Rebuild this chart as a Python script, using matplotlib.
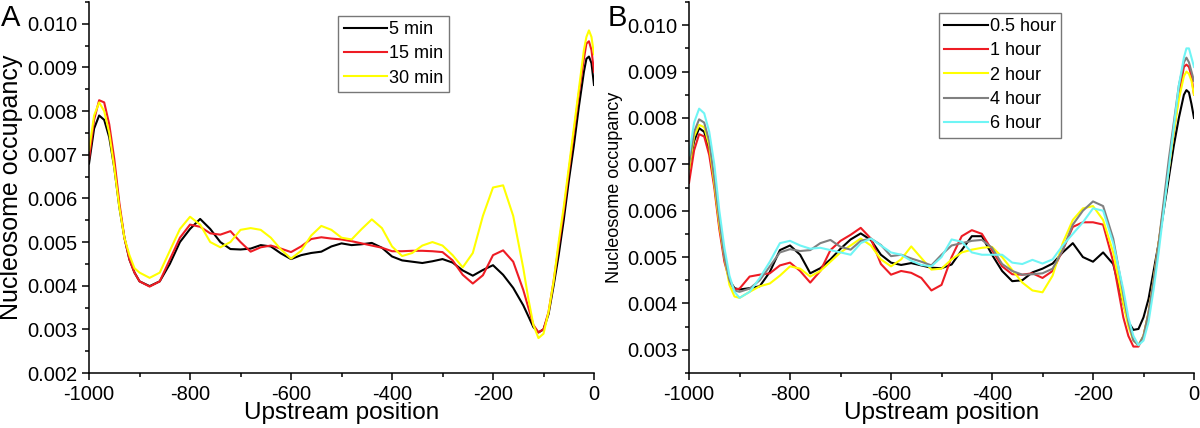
import matplotlib
matplotlib.use("Agg")
import matplotlib.pyplot as plt
from matplotlib.ticker import MultipleLocator, FormatStrFormatter

plt.rcParams['font.family'] = ['Liberation Sans', 'DejaVu Sans']
plt.rcParams['axes.unicode_minus'] = False

# upstream positions (shared by all curves)
pos = [-1000, -990, -980, -970, -960, -950, -940, -930, -920, -910, -900,
       -880, -860, -840, -820, -800, -780, -760, -740, -720, -700, -680,
       -660, -640, -620, -600, -580, -560, -540, -520, -500, -480, -460,
       -440, -420, -400, -380, -360, -340, -320, -300, -280, -260, -240,
       -220, -200, -180, -160, -140, -130, -120, -110, -100, -90, -80,
       -70, -60, -50, -40, -30, -20, -15, -10, -5, 0]

# panel A
min5 = [0.0068, 0.0076, 0.0079, 0.0078, 0.0074, 0.0067, 0.0058, 0.0051, 0.0046, 0.0043, 0.0041,
        0.00399, 0.0041, 0.0045, 0.0050, 0.0053, 0.00553, 0.0053, 0.0050, 0.00484, 0.00483, 0.00485,
        0.00493, 0.00490, 0.00474, 0.00461, 0.00470, 0.00475, 0.00478, 0.00490, 0.00497, 0.00493, 0.00495,
        0.00498, 0.00487, 0.00467, 0.00458, 0.00455, 0.00452, 0.00456, 0.00461, 0.00453, 0.00435, 0.00423,
        0.00436, 0.00447, 0.00425, 0.00395, 0.00355, 0.0033, 0.00305, 0.00293, 0.00300, 0.00335, 0.0040,
        0.0047, 0.0055, 0.0064, 0.0072, 0.0081, 0.0089, 0.0092, 0.00925, 0.0091, 0.0086]
min15 = [0.0069, 0.0078, 0.00825, 0.0082, 0.0077, 0.0069, 0.0059, 0.0051, 0.0046, 0.0043, 0.0041,
         0.00398, 0.0041, 0.0046, 0.0051, 0.00540, 0.00535, 0.0052, 0.00517, 0.00525, 0.00500, 0.00478,
         0.00488, 0.00492, 0.00485, 0.00477, 0.00490, 0.00507, 0.00511, 0.00508, 0.00506, 0.00502, 0.00497,
         0.00492, 0.00487, 0.00479, 0.00479, 0.00480, 0.00480, 0.00479, 0.00477, 0.00458, 0.00425, 0.00405,
         0.00424, 0.00470, 0.00481, 0.00455, 0.0039, 0.0035, 0.0031, 0.00293, 0.0030, 0.0034, 0.0041,
         0.0049, 0.0057, 0.0066, 0.0075, 0.0084, 0.0092, 0.00955, 0.0096, 0.0094, 0.0089]
min30 = [0.0071, 0.0079, 0.0082, 0.0080, 0.0075, 0.0067, 0.0058, 0.0051, 0.0047, 0.0044, 0.0043,
         0.00418, 0.0043, 0.0048, 0.0053, 0.00558, 0.0054, 0.0050, 0.00488, 0.0050, 0.00528, 0.00532,
         0.00528, 0.00510, 0.00483, 0.00462, 0.00480, 0.00515, 0.00537, 0.00528, 0.00510, 0.00506, 0.00530,
         0.00552, 0.00532, 0.00490, 0.00468, 0.00475, 0.00492, 0.00500, 0.00492, 0.00470, 0.00442, 0.00475,
         0.00560, 0.00625, 0.00630, 0.0056, 0.0044, 0.0037, 0.0031, 0.0028, 0.0029, 0.0034, 0.0041,
         0.0050, 0.0058, 0.0067, 0.0076, 0.0085, 0.0094, 0.0097, 0.00985, 0.0097, 0.0093]

# panel B
h05 = [0.0069, 0.0075, 0.00778, 0.0077, 0.0073, 0.0066, 0.0057, 0.0050, 0.0045, 0.00433, 0.00430,
       0.00433, 0.00437, 0.00468, 0.00515, 0.00525, 0.00505, 0.00465, 0.00476, 0.00495, 0.00518, 0.00538,
       0.00551, 0.00537, 0.00505, 0.00488, 0.00483, 0.00487, 0.00482, 0.00477, 0.00476, 0.00484, 0.00515,
       0.00545, 0.00545, 0.00505, 0.00470, 0.00448, 0.00450, 0.00467, 0.00475, 0.00486, 0.00510, 0.00530,
       0.00500, 0.00490, 0.00510, 0.00485, 0.0040, 0.0036, 0.00343, 0.00345, 0.0037, 0.0041, 0.0047,
       0.0053, 0.0060, 0.0067, 0.0074, 0.0080, 0.0085, 0.0086, 0.00855, 0.0083, 0.0080]
h1 = [0.0066, 0.0073, 0.00765, 0.0076, 0.0072, 0.0065, 0.0056, 0.0049, 0.0045, 0.0043, 0.00432,
      0.00458, 0.00462, 0.00465, 0.00482, 0.00488, 0.00470, 0.00445, 0.00470, 0.00515, 0.00535, 0.00548,
      0.00563, 0.00540, 0.00485, 0.00462, 0.00470, 0.00466, 0.00455, 0.00428, 0.00440, 0.00500, 0.00545,
      0.00558, 0.00550, 0.00515, 0.00480, 0.00463, 0.00462, 0.00465, 0.00455, 0.00470, 0.00515, 0.00565,
      0.00575, 0.00575, 0.00570, 0.00490, 0.0037, 0.0033, 0.00307, 0.00307, 0.0033, 0.0038, 0.0045,
      0.0053, 0.0061, 0.0069, 0.0077, 0.0085, 0.0091, 0.00915, 0.0091, 0.0089, 0.0085]
h2 = [0.0069, 0.0076, 0.00785, 0.0078, 0.0074, 0.0066, 0.0057, 0.0050, 0.0044, 0.00415, 0.00412,
      0.00425, 0.00437, 0.00443, 0.00460, 0.00480, 0.00475, 0.00458, 0.00470, 0.00490, 0.00510, 0.00525,
      0.00540, 0.00525, 0.00495, 0.00480, 0.00495, 0.00523, 0.00498, 0.00473, 0.00475, 0.00495, 0.00510,
      0.00516, 0.00520, 0.00522, 0.00500, 0.00472, 0.00445, 0.00428, 0.00424, 0.00460, 0.00530, 0.00580,
      0.00605, 0.00610, 0.00580, 0.0051, 0.0040, 0.0035, 0.0032, 0.0031, 0.0033, 0.0038, 0.0045,
      0.0053, 0.0061, 0.0069, 0.0077, 0.0084, 0.0089, 0.0090, 0.00895, 0.0088, 0.0085]
h4 = [0.0070, 0.0077, 0.00797, 0.0079, 0.0075, 0.0067, 0.0058, 0.0050, 0.0045, 0.00428, 0.00425,
      0.00432, 0.00450, 0.00480, 0.00510, 0.00517, 0.00513, 0.00515, 0.00530, 0.00537, 0.00522, 0.00516,
      0.00535, 0.00540, 0.00526, 0.00502, 0.00505, 0.00497, 0.00490, 0.00482, 0.00505, 0.00525, 0.00530,
      0.00535, 0.00537, 0.00520, 0.00485, 0.00470, 0.00462, 0.00463, 0.00465, 0.00475, 0.00515, 0.00570,
      0.00600, 0.00620, 0.00610, 0.0054, 0.0042, 0.0036, 0.0032, 0.0031, 0.0033, 0.0038, 0.0045,
      0.0053, 0.0062, 0.0071, 0.0079, 0.0087, 0.0092, 0.0093, 0.0092, 0.0090, 0.0088]
h6 = [0.0072, 0.0079, 0.0082, 0.0081, 0.0077, 0.0070, 0.0060, 0.0052, 0.0046, 0.00425, 0.00412,
      0.00425, 0.00455, 0.00490, 0.00530, 0.00535, 0.00525, 0.00518, 0.00520, 0.00515, 0.00510, 0.00505,
      0.00530, 0.00540, 0.00525, 0.00510, 0.00505, 0.00492, 0.00483, 0.00480, 0.00500, 0.00538, 0.00533,
      0.00510, 0.00505, 0.00505, 0.00505, 0.00488, 0.00485, 0.00494, 0.00486, 0.00495, 0.00525, 0.00550,
      0.00575, 0.00605, 0.00600, 0.0053, 0.0043, 0.0037, 0.0033, 0.0031, 0.0032, 0.0036, 0.0043,
      0.0051, 0.0060, 0.0069, 0.0078, 0.0087, 0.0093, 0.0095, 0.0095, 0.0093, 0.0091]

fig = plt.figure(figsize=(12, 4.28), dpi=100)
axA = fig.add_axes([0.0742, 0.1285, 0.4208, 0.8668])
axB = fig.add_axes([0.5742, 0.1285, 0.4208, 0.8668])

lw = 1.5
axA.plot(pos, min5, color='black', lw=lw, label='5 min')
axA.plot(pos, min15, color='#ee1c24', lw=lw, label='15 min')
axA.plot(pos, min30, color='#ffff00', lw=lw, label='30 min')

axB.plot(pos, h05, color='black', lw=lw, label='0.5 hour')
axB.plot(pos, h1, color='#ee1c24', lw=lw, label='1 hour')
axB.plot(pos, h2, color='#ffff00', lw=lw, label='2 hour')
axB.plot(pos, h4, color='#808080', lw=lw, label='4 hour')
axB.plot(pos, h6, color='#6ff5f5', lw=lw, label='6 hour')

axA.set_ylim(0.002, 0.0105)
axB.set_ylim(0.0025, 0.0105)

for ax in (axA, axB):
    ax.set_xlim(-1000, 0)
    ax.spines['top'].set_visible(False)
    ax.spines['right'].set_visible(False)
    ax.spines['left'].set_linewidth(1.1)
    ax.spines['bottom'].set_linewidth(1.1)
    ax.xaxis.set_major_locator(MultipleLocator(200))
    ax.xaxis.set_minor_locator(MultipleLocator(100))
    ax.yaxis.set_major_locator(MultipleLocator(0.001))
    ax.yaxis.set_minor_locator(MultipleLocator(0.0005))
    ax.yaxis.set_major_formatter(FormatStrFormatter('%.3f'))
    ax.tick_params(which='major', direction='out', length=5, width=1.1, labelsize=14.5, pad=3.5)
    ax.tick_params(which='minor', direction='out', length=3, width=1.1)
    ax.set_xlabel('Upstream position', fontsize=17.5)
    ax.xaxis.set_label_coords(0.5, -0.078)

axA.set_ylabel('Nucleosome occupancy', fontsize=18)
axA.yaxis.set_label_coords(-0.13, 0.5)
axB.set_ylabel('Nucleosome occupancy', fontsize=13)
axB.yaxis.set_label_coords(-0.13, 0.5)

legA = axA.legend(loc='upper left', bbox_to_anchor=(0.282, 0.963), bbox_transform=fig.transFigure,
                  fontsize=13, frameon=True, fancybox=False, edgecolor='#555555',
                  handlelength=2.4, handletextpad=0.1, labelspacing=0.4, borderpad=0.3,
                  borderaxespad=0)
legA.get_frame().set_linewidth(1.0)
legB = axB.legend(loc='upper left', bbox_to_anchor=(0.7825, 0.970), bbox_transform=fig.transFigure,
                  fontsize=13, frameon=True, fancybox=False, edgecolor='#555555',
                  handlelength=2.4, handletextpad=0.1, labelspacing=0.4, borderpad=0.3,
                  borderaxespad=0)
legB.get_frame().set_linewidth(1.0)

fig.text(0.001, 0.99, 'A', fontsize=21, va='top', ha='left')
fig.text(0.506, 0.99, 'B', fontsize=21, va='top', ha='left')

fig.savefig('out.png', dpi=100)
